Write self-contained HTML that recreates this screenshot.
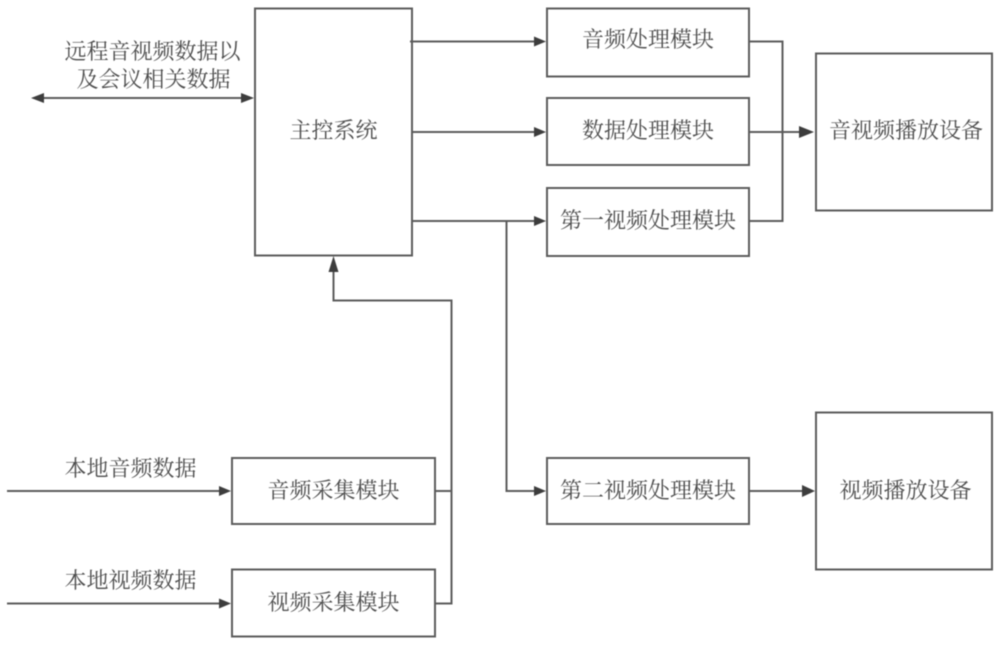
<!DOCTYPE html>
<html>
<head>
<meta charset="utf-8">
<style>
html,body{margin:0;padding:0;background:#fff;width:1000px;height:645px;overflow:hidden}
svg{display:block;filter:blur(0.45px)}
text{font-family:"Noto Serif CJK SC","Liberation Serif",serif;font-size:22px;fill:#4d4d4d;text-anchor:middle}
rect{fill:none;stroke:#5c5c5c;stroke-width:2}
path.l{fill:none;stroke:#5c5c5c;stroke-width:2}
path.a{fill:#3d3d3d;stroke:none}
</style>
</head>
<body>
<svg width="1000" height="645" viewBox="0 0 1000 645" xmlns="http://www.w3.org/2000/svg">
<rect x="255" y="8.500" width="157" height="247"/>
<rect x="547" y="8.500" width="202" height="68"/>
<rect x="547" y="98" width="202" height="67"/>
<rect x="547" y="188" width="202" height="68"/>
<rect x="547" y="458" width="202" height="66"/>
<rect x="816" y="53.500" width="176" height="157"/>
<rect x="816" y="412.500" width="176" height="157"/>
<rect x="232" y="458" width="203" height="66"/>
<rect x="232" y="569.500" width="203" height="67"/>

<path class="l" d="M40 98H245"/>
<path class="a" d="M31 98L44 93V103Z"/>
<path class="a" d="M254 98L241 93V103Z"/>

<path class="l" d="M410 41.500H537"/>
<path class="a" d="M546 41.500L534 36.500V46.500Z"/>
<path class="l" d="M412 132H537"/>
<path class="a" d="M546 132L534 127V137Z"/>
<path class="l" d="M412 221H537"/>
<path class="a" d="M546 221L534 216V226Z"/>

<path class="l" d="M506.500 221V491H537"/>
<path class="a" d="M546 491L534 486V496Z"/>

<path class="l" d="M749 41.500H782.500V221H749"/>
<path class="l" d="M749 132H805"/>
<path class="a" d="M814 132L799 126V138Z"/>
<path class="l" d="M749 491H805"/>
<path class="a" d="M815 491L802 485V497Z"/>

<path class="l" d="M7 491H222"/>
<path class="a" d="M231 491L219 486V496Z"/>
<path class="l" d="M7 603.500H222"/>
<path class="a" d="M231 603.500L219 598.500V608.500Z"/>

<path class="l" d="M435 491H451M435 603.500H451.500V300.500H333.500V265"/>
<path class="a" d="M333.500 256L328.500 272H338.500Z"/>

<text x="152.500" y="59">远程音视频数据以</text>
<text x="153.500" y="87">及会议相关数据</text>
<text x="333.500" y="138">主控系统</text>
<text x="648" y="47">音频处理模块</text>
<text x="648" y="138">数据处理模块</text>
<text x="648" y="228">第一视频处理模块</text>
<text x="648" y="498">第二视频处理模块</text>
<text x="906" y="138">音视频播放设备</text>
<text x="905.500" y="498">视频播放设备</text>
<text x="333.500" y="498">音频采集模块</text>
<text x="333.500" y="610">视频采集模块</text>
<text x="130.500" y="476">本地音频数据</text>
<text x="130.500" y="588">本地视频数据</text>
</svg>
</body>
</html>
